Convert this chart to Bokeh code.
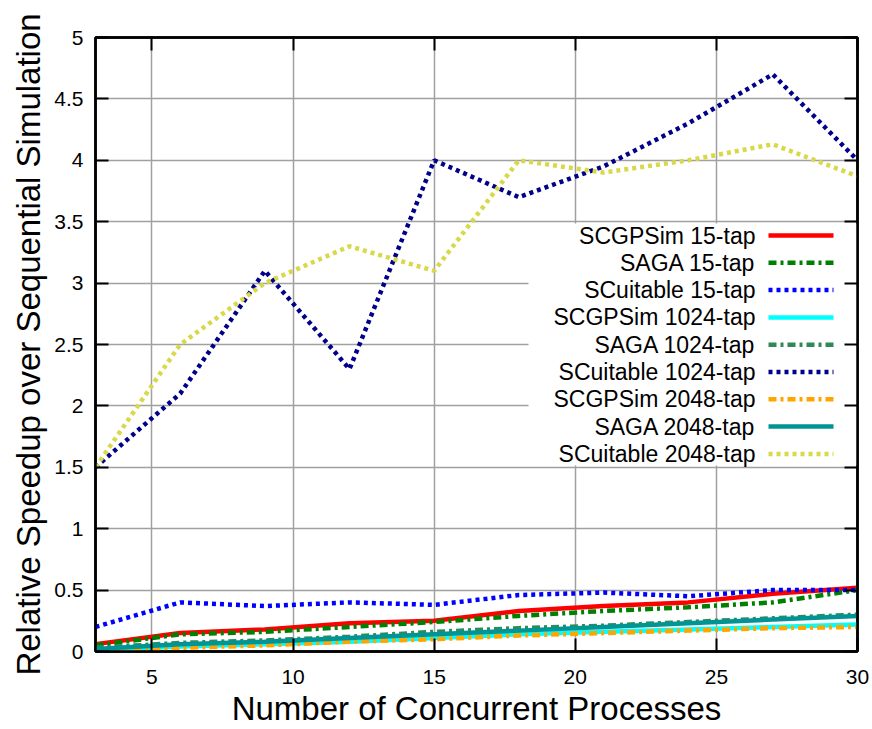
from bokeh.plotting import figure
from bokeh.models import FixedTicker, LinearAxis, Range1d, BoxAnnotation
from bokeh.core.properties import value
from bokeh.embed import file_html
from bokeh.resources import INLINE

# ---------------- data ----------------
processes = [3, 6, 9, 12, 15, 18, 21, 24, 27, 30]

scgpsim_15 = [0.06, 0.15, 0.18, 0.23, 0.25, 0.33, 0.37, 0.40, 0.47, 0.52]
saga_15 = [0.05, 0.14, 0.16, 0.20, 0.24, 0.29, 0.33, 0.36, 0.40, 0.50]
scuitable_15 = [0.20, 0.40, 0.37, 0.40, 0.38, 0.46, 0.48, 0.45, 0.50, 0.50]
scgpsim_1024 = [0.01, 0.04, 0.06, 0.08, 0.11, 0.14, 0.16, 0.18, 0.20, 0.22]
saga_1024 = [0.03, 0.07, 0.09, 0.12, 0.16, 0.19, 0.21, 0.24, 0.27, 0.30]
scuitable_1024 = [1.50, 2.10, 3.10, 2.30, 4.00, 3.70, 3.95, 4.30, 4.70, 4.00]
scgpsim_2048 = [0.00, 0.03, 0.05, 0.08, 0.10, 0.13, 0.15, 0.17, 0.19, 0.20]
saga_2048 = [0.02, 0.06, 0.08, 0.11, 0.14, 0.17, 0.20, 0.23, 0.26, 0.29]
scuitable_2048 = [1.50, 2.50, 3.00, 3.30, 3.10, 4.00, 3.90, 4.00, 4.13, 3.87]

series_names = ["SCGPSim 15-tap", "SAGA 15-tap", "SCuitable 15-tap",
                "SCGPSim 1024-tap", "SAGA 1024-tap", "SCuitable 1024-tap",
                "SCGPSim 2048-tap", "SAGA 2048-tap", "SCuitable 2048-tap"]
series_values = [scgpsim_15, saga_15, scuitable_15,
                 scgpsim_1024, saga_1024, scuitable_1024,
                 scgpsim_2048, saga_2048, scuitable_2048]

x_ticks = [5, 10, 15, 20, 25, 30]
y_ticks = [0, 0.5, 1, 1.5, 2, 2.5, 3, 3.5, 4, 4.5, 5]
y_tick_labels = ["0", "0.5", "1", "1.5", "2", "2.5", "3", "3.5", "4", "4.5", "5"]

# ---------------- styles ----------------
colors = ["#ff0000", "#008000", "#0000ff",
          "#00ffff", "#2e8b57", "#00008b",
          "#ffa500", "#009495", "#d8d848"]
SOLID = "solid"
DASHDOT = "8 4 3 4"
DOTTED = "4 4"
dashes = [SOLID, DASHDOT, DOTTED,
          SOLID, DASHDOT, DOTTED,
          DASHDOT, SOLID, DOTTED]

FONT = "Liberation Sans"

X0, X1, Y0, Y1 = 3, 30, 0, 5
W, H = 872, 729
BL, BR, BT, BB = 95, 15, 37, 78
FW, FH = W - BL - BR, H - BT - BB


def px_to_x(px):
    return X0 + (px - BL) * (X1 - X0) / FW


def py_to_y(py):
    return Y0 + (BT + FH - py) * (Y1 - Y0) / FH


p = figure(width=W, height=H, x_range=Range1d(X0, X1), y_range=Range1d(Y0, Y1),
           output_backend="svg", toolbar_location=None,
           min_border_left=BL, min_border_right=BR, min_border_top=BT, min_border_bottom=BB)
p.background_fill_color = "white"
p.border_fill_color = "white"
p.outline_line_color = "black"
p.outline_line_width = 2.5

# axes
xa = p.xaxis[0]
ya = p.yaxis[0]
xa.ticker = FixedTicker(ticks=x_ticks)
ya.ticker = FixedTicker(ticks=y_ticks)
ya.major_label_overrides = {(int(t) if float(t).is_integer() else t): lab
                            for t, lab in zip(y_ticks, y_tick_labels)}
xa.axis_label = "Number of Concurrent Processes"
ya.axis_label = "Relative Speedup over Sequential Simulation"
for ax in (xa, ya):
    ax.axis_label_text_font = FONT
    ax.axis_label_text_font_size = "33px"
    ax.axis_label_text_font_style = "normal"
    ax.axis_label_text_color = "black"
    ax.major_label_text_font = FONT
    ax.major_label_text_font_size = "21px"
    ax.major_label_text_color = "black"
    ax.major_tick_in = 13
    ax.major_tick_out = 0
    ax.minor_tick_in = 0
    ax.minor_tick_out = 0
    ax.major_tick_line_width = 2
    ax.major_tick_line_color = "black"
    ax.axis_line_color = "black"
    ax.axis_line_width = 2.5
xa.major_label_standoff = 18
xa.axis_label_standoff = 3
ya.major_label_standoff = 12
ya.axis_label_standoff = 4

# mirrored tick marks on top and right (no labels drawn)
for loc, tick_list in (("above", x_ticks), ("right", y_ticks)):
    ax = LinearAxis(ticker=FixedTicker(ticks=tick_list))
    ax.major_label_text_color = None
    ax.major_label_text_font_size = "1px"
    ax.major_label_standoff = 0
    ax.major_tick_in = 13
    ax.major_tick_out = 0
    ax.minor_tick_in = 0
    ax.minor_tick_out = 0
    ax.major_tick_line_width = 2
    ax.major_tick_line_color = "black"
    ax.axis_line_color = "black"
    ax.axis_line_width = 2.5
    p.add_layout(ax, loc)

p.xgrid.grid_line_color = "#a0a0a0"
p.ygrid.grid_line_color = "#a0a0a0"
p.xgrid.grid_line_width = 1.5
p.ygrid.grid_line_width = 1.5

# legend background (covers grid, below ticks)
p.add_layout(BoxAnnotation(left=px_to_x(528), right=X1, top=py_to_y(223), bottom=py_to_y(465),
                           fill_color="white", fill_alpha=1.0, line_color=None, level="underlay"))

# data lines
for name, vals, c, d in zip(series_names, series_values, colors, dashes):
    p.line(processes, vals, line_color=c, line_width=4.5, line_dash=d, line_cap="butt")

# legend (text on the left, sample on the right)
row0, row_step = 235, 27.3
for i, (name, c, d) in enumerate(zip(series_names, colors, dashes)):
    ypx = row0 + i * row_step
    yy = py_to_y(ypx)
    p.line([px_to_x(768), px_to_x(833)], [yy, yy], line_color=c, line_width=4.5,
           line_dash=d, line_cap="butt")
    p.text(x=[px_to_x(755)], y=[yy], text=[name], text_font=value(FONT),
           text_font_size=value("23px"), text_align="right", text_baseline="middle",
           text_color="black")

open("out.html", "w").write(file_html(p, INLINE))
